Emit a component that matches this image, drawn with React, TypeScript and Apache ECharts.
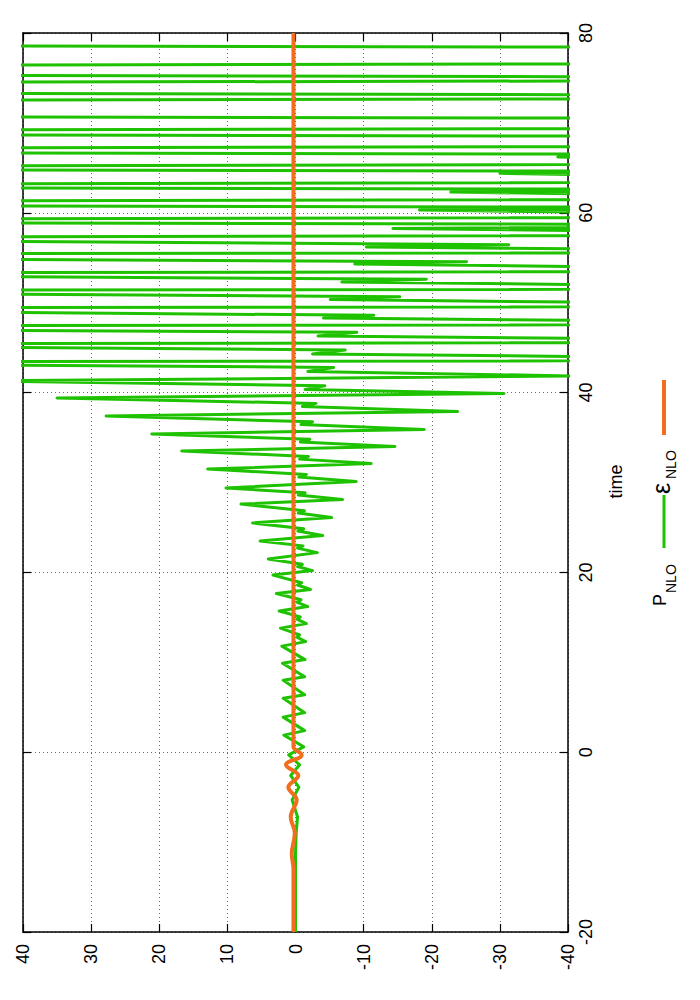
import React, { useEffect, useRef } from "react";
import * as echarts from "echarts";

// Tick labels
const valueTicks = [40, 30, 20, 10, 0, -10, -20, -30, -40];
const timeTicks = [-20, 0, 20, 40, 60, 80];

// P_NLO path: [value, time] pairs (off-scale excursions at ±100)
const pNlo: [number, number][] = [
  [0, -20], [0, -11.3], [-0.1, -9.0], [-0.3, -7.2], [0.5, -5.3], [-0.5, -3.9], [0.7, -2.6], [-0.6, -1.4], [1.0, -0.3],
  [-1.2, 0.6],
  [1.7, 1.9], [-1.35, 2.4],
  [1.8, 3.9], [-1.35, 4.4],
  [1.8, 6.0], [-1.35, 6.4],
  [1.8, 8.0], [-1.35, 8.4],
  [1.9, 9.9], [-1.4, 10.3],
  [2.0, 11.8], [-1.5, 12.3], [-0.2, 12.8], [-0.6, 13.05],
  [2.2, 13.8], [-1.6, 14.3], [-0.2, 14.8], [-0.7, 15.05],
  [2.4, 15.7], [-1.8, 16.2], [-0.2, 16.7], [-0.8, 16.95],
  [2.8, 17.65], [-2.2, 18.1], [-0.3, 18.6], [-0.9, 18.85],
  [3.3, 19.7], [-2.5, 20.2], [-0.3, 20.65], [-1.0, 20.9],
  [4.0, 21.5], [-3.2, 22.2], [-0.3, 22.7], [-1.1, 22.95],
  [5.2, 23.5], [-4.0, 24.1], [-0.35, 24.6], [-1.2, 24.85],
  [6.3, 25.5], [-5.3, 26.1], [-0.4, 26.6], [-1.3, 26.85],
  [8.0, 27.6], [-6.9, 28.1], [-0.4, 28.6], [-1.4, 28.85],
  [10.2, 29.4], [-8.9, 30.1], [-0.5, 30.6], [-1.6, 30.9],
  [12.9, 31.5], [-11.1, 32.1], [-0.6, 32.6], [-1.9, 32.9],
  [16.7, 33.5], [-14.6, 34.0], [-0.7, 34.5], [-2.1, 34.8],
  [21.1, 35.4], [-18.9, 35.9], [-0.8, 36.45], [-2.5, 36.75],
  [27.8, 37.4], [-23.8, 37.9], [-1.0, 38.45], [-3.0, 38.8],
  [35.0, 39.4], [-30.6, 39.9], [-1.4, 40.35], [-4.3, 40.75],
  [46, 41.3], [-41, 41.85], [-1.8, 42.35], [-5.6, 42.8],
  [100, 43.38], [100, 43.4], [-100, 43.6], [-2.5, 44.3], [-7.3, 44.75],
  [100, 45.32], [100, 45.4], [-100, 45.6], [-3.3, 46.3], [-9.0, 46.7],
  [100, 47.14], [100, 47.4], [-100, 47.6], [-4.1, 48.3], [-11.5, 48.6],
  [100, 49.25], [100, 49.4], [-100, 49.6], [-5.1, 50.35], [-15.3, 50.65],
  [100, 51.27], [100, 51.35], [-100, 51.55], [-6.8, 52.3], [-19.2, 52.6],
  [100, 53.2], [100, 53.3], [-100, 53.5], [-8.7, 54.3], [-25.1, 54.55],
  [100, 55.03], [100, 55.4], [-100, 55.6], [-10.4, 56.2], [-31.3, 56.45],
  [100, 57.1], [100, 57.25], [-100, 57.55], [-14.3, 58.25], [-100, 58.65],
  [100, 58.95], [100, 59.25], [-100, 59.55], [-18.2, 60.3], [-100, 60.55],
  [100, 60.85], [100, 61.25], [-100, 61.55], [-22.8, 62.3], [-100, 62.55],
  [100, 62.85], [100, 63.15], [-100, 63.45], [-30.0, 64.4], [-100, 64.55],
  [100, 64.85], [100, 65.15], [-100, 65.45], [-38.5, 66.2], [-100, 66.45],
  [100, 66.75], [100, 67.15], [-100, 67.45],
  [-100, 68.45], [100, 68.75], [100, 69.15], [-100, 69.45],
  [-100, 70.45], [100, 70.75], [100, 72.45], [-100, 72.75],
  [-100, 73.05], [100, 73.35], [100, 74.45], [-100, 74.75],
  [-100, 75.05], [100, 75.35], [100, 76.35], [-100, 76.65],
  [-100, 78.35], [100, 78.65], [100, 81],
];

// ε_NLO path: [value, time]
const epsNlo: [number, number][] = [
  [0.3, -20], [0.3, -13], [0.55, -11.3], [0.1, -9.0], [0.7, -7.2], [-0.17, -5.3],
  [1.05, -3.9], [-0.42, -2.6], [1.4, -1.4], [-0.9, -0.3], [0.3, 0.6], [0.3, 2], [0.3, 80],
];

const GREEN = "#1fc200";
const ORANGE = "#f06e1e";
const FONT = "Liberation Sans, Arial, Helvetica, sans-serif";

export default function App() {
  const ref = useRef<HTMLDivElement>(null);
  useEffect(() => {
    document.body.style.margin = "0";
    const chart = echarts.init(ref.current!, undefined, { renderer: "svg" });
    const vMin = valueTicks[valueTicks.length - 1];
    const vMax = valueTicks[0];
    const vStep = valueTicks[0] - valueTicks[1];
    const tMin = timeTicks[0];
    const tMax = timeTicks[timeTicks.length - 1];
    const tStep = timeTicks[1] - timeTicks[0];
    const axisLine = { show: true, onZero: false, lineStyle: { color: "#000", width: 1.5 } };
    const tick = { show: true, inside: true, length: 8, lineStyle: { color: "#000", width: 1.2 } };
    const grid = { show: true, lineStyle: { color: "#6a6a6a", width: 1, type: [1, 3] as any } };
    chart.setOption({
      animation: false,
      backgroundColor: "#fff",
      grid: { left: 23, top: 33, right: 132, bottom: 68, containLabel: false },
      xAxis: [
        {
          type: "value", position: "bottom", min: vMin, max: vMax, interval: vStep, inverse: true,
          axisLine, axisTick: tick, splitLine: grid,
          axisLabel: { rotate: 90, fontSize: 18, color: "#000", margin: 12, fontFamily: FONT },
        },
        {
          type: "value", position: "top", min: vMin, max: vMax, interval: vStep, inverse: true,
          axisLine, axisTick: tick, splitLine: { show: false }, axisLabel: { show: false },
        },
      ],
      yAxis: [
        {
          type: "value", position: "right", min: tMin, max: tMax, interval: tStep,
          axisLine, axisTick: tick, splitLine: grid,
          axisLabel: { rotate: 90, fontSize: 18, color: "#000", margin: 9, fontFamily: FONT },
        },
        {
          type: "value", position: "left", min: tMin, max: tMax, interval: tStep,
          axisLine, axisTick: tick, splitLine: { show: false }, axisLabel: { show: false },
        },
      ],
      series: [
        {
          type: "line", name: "P_NLO", data: pNlo, xAxisIndex: 0, yAxisIndex: 0,
          showSymbol: false, symbol: "none", clip: true,
          lineStyle: { color: GREEN, width: 3, join: "round" }, z: 3,
        },
        {
          type: "line", name: "ε_NLO", data: epsNlo, xAxisIndex: 0, yAxisIndex: 0,
          showSymbol: false, symbol: "none", clip: true, smooth: 0.4,
          lineStyle: { color: ORANGE, width: 4 }, z: 4,
        },
      ],
      graphic: [
        {
          type: "text", x: 616, y: 481.5, rotation: Math.PI / 2,
          style: { text: "time", fontSize: 18, fontFamily: FONT, fill: "#000", textAlign: "center", textVerticalAlign: "middle" },
        },
        {
          type: "text", x: 660, y: 606, rotation: Math.PI / 2,
          style: { text: "P", fontSize: 18, fontFamily: FONT, fill: "#000", textAlign: "left", textVerticalAlign: "middle" },
        },
        {
          type: "text", x: 671, y: 593, rotation: Math.PI / 2,
          style: { text: "NLO", fontSize: 14, fontFamily: FONT, fill: "#000", textAlign: "left", textVerticalAlign: "middle" },
        },
        {
          type: "line", shape: { x1: 664, y1: 548, x2: 664, y2: 495 },
          style: { stroke: GREEN, lineWidth: 3 },
        },
        {
          type: "text", x: 661, y: 494, rotation: Math.PI / 2,
          style: { text: "ε", fontSize: 25, fontFamily: FONT, fill: "#000", textAlign: "left", textVerticalAlign: "middle" },
        },
        {
          type: "text", x: 671, y: 479, rotation: Math.PI / 2,
          style: { text: "NLO", fontSize: 14, fontFamily: FONT, fill: "#000", textAlign: "left", textVerticalAlign: "middle" },
        },
        {
          type: "line", shape: { x1: 664, y1: 435, x2: 664, y2: 380 },
          style: { stroke: ORANGE, lineWidth: 4 },
        },
      ],
    });
    return () => chart.dispose();
  }, []);
  return <div ref={ref} style={{ width: 700, height: 1000 }} />;
}
